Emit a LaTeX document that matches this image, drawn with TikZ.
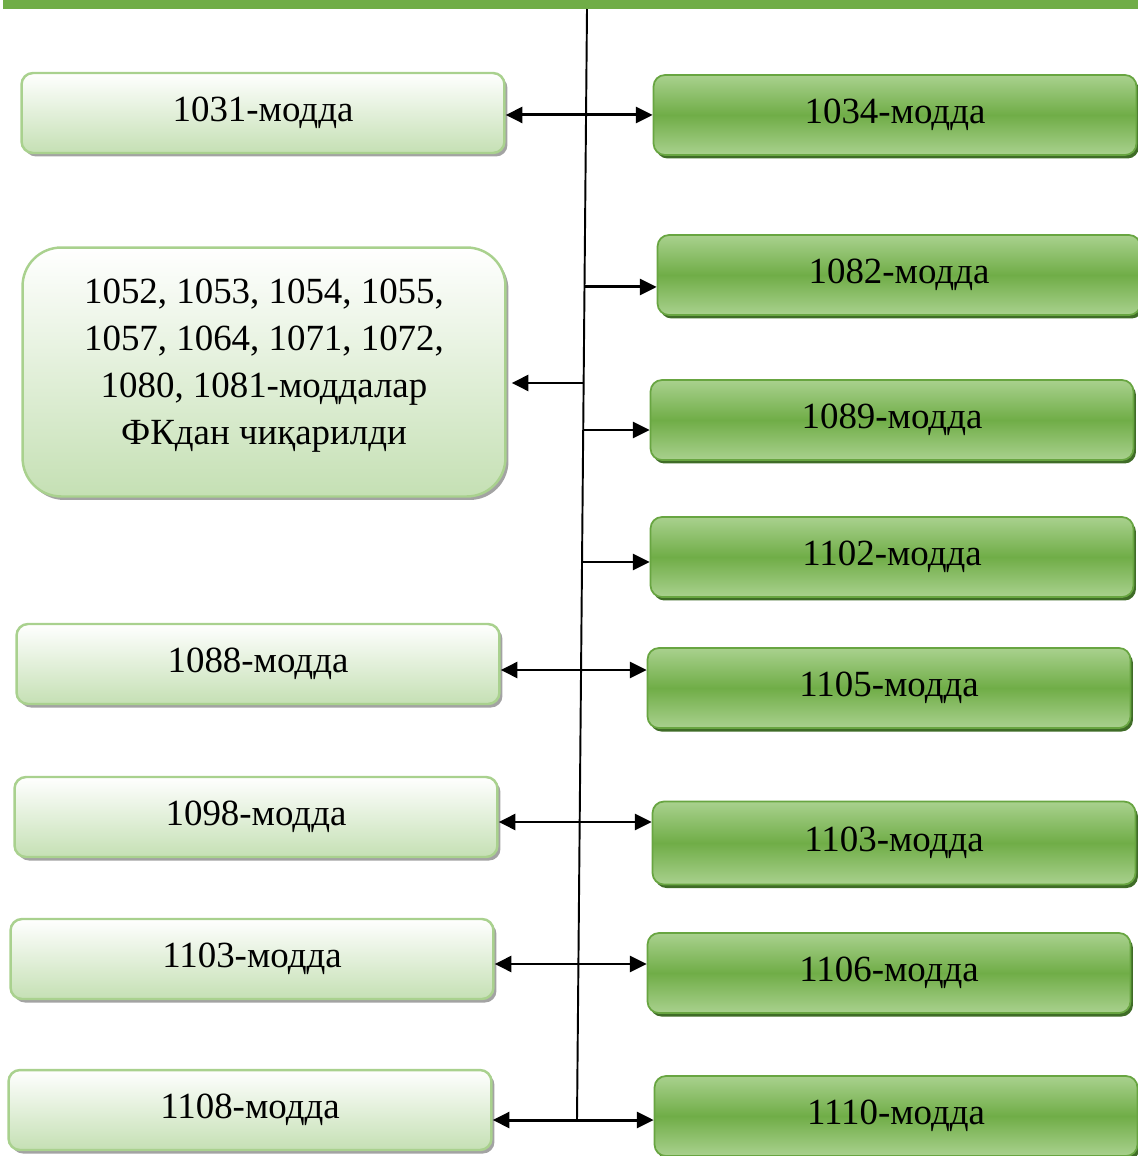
\documentclass[tikz,border=0pt]{standalone}
\usepackage{fontspec}
\setmainfont{Liberation Serif}
\usetikzlibrary{positioning, arrows.meta, calc, shadows}
\definecolor{bargreen}{HTML}{70AD47}
\definecolor{lightfill}{HTML}{C5E0B4}
\definecolor{lightedge}{HTML}{A9D18E}
\definecolor{darkfill}{HTML}{70AD47}
\definecolor{darkedge}{HTML}{68A541}
\definecolor{midfill}{HTML}{A9D18E}
\definecolor{greyshadow}{HTML}{A3A3A3}
\definecolor{greenshadow}{HTML}{3F6C27}

\begin{document}
\begin{tikzpicture}[
    x=0.02cm, y=-0.02cm,
    lbox/.style={draw=lightedge, line width=1.4pt, rounded corners=6.5pt,
        top color=white, bottom color=lightfill,
        minimum width=9.66cm, minimum height=1.6cm, inner sep=0pt,
        font=\fontsize{21}{26.7}\selectfont, align=center,
        drop shadow={fill=greyshadow, opacity=1, shadow xshift=0.06cm, shadow yshift=-0.07cm}},
    rbox/.style={draw=darkedge, line width=1pt, rounded corners=6.5pt,
        top color=midfill, bottom color=midfill, middle color=darkfill,
        minimum width=9.66cm, minimum height=1.6cm, inner sep=0pt,
        font=\fontsize{21}{26.7}\selectfont, align=center,
        drop shadow={fill=greenshadow, opacity=1, shadow xshift=0.05cm, shadow yshift=-0.07cm}},
    arrw/.style={-{Triangle[length=9.5pt, width=9pt]}, line width=1.7pt}
]
\useasboundingbox (0,0) rectangle (1138,1156);

% Title bar (cut off at the top)
\node[fill=bargreen, minimum width=22.7cm, minimum height=0.18cm, inner sep=0pt,
    anchor=north west] (bar) at (3,0) {};

% Spine
\coordinate (top) at (587,9);
\coordinate (bot) at (577,1120);
\draw[line width=1.1pt] (top) -- (bot);

% Left column
\node[lbox] (a1031) at (263,113) {1031-модда};
\node[lbox, minimum height=4.98cm, rounded corners=22pt] (abig) at (264,372)
    {1052, 1053, 1054, 1055,\\ 1057, 1064, 1071, 1072,\\ 1080, 1081-моддалар\\ ФКдан чиқарилди\\[-0.52cm]};
\node[lbox] (a1088) at (258,664) {1088-модда};
\node[lbox] (a1098) at (256,817) {1098-модда};
\node[lbox] (a1103) at (252,959) {1103-модда};
\node[lbox] (a1108) at (250,1110) {1108-модда};

% Right column
\node[rbox] (b1034) at (895,115) {1034-модда};
\node[rbox] (b1082) at (899,275) {1082-модда};
\node[rbox] (b1089) at (892,420) {1089-модда};
\node[rbox] (b1102) at (892,557) {1102-модда};
\node[rbox] (b1105) at (889,688) {1105-модда};
\node[rbox, minimum height=1.66cm] (b1103) at (894,843) {1103-модда};
\node[rbox] (b1106) at (889,973) {1106-модда};
\node[rbox] (b1110) at (896,1116) {1110-модда};

% Branch points on the spine
\foreach \n/\y in {1/115, 2/287, 3/383, 4/430, 5/562, 6/670, 7/822, 8/964, 9/1120}
    \coordinate (j\n) at ($(top)!{(\y-9)/1111}!(bot)$);

% Branches
\draw[arrw] (j1) -- (j1 -| a1031.east);
\draw[arrw] (j1) -- (j1 -| b1034.west);
\draw[arrw] (j2) -- (j2 -| b1082.west);
\draw[arrw, shorten >=0.1cm] (j3) -- (j3 -| abig.east);
\draw[arrw] (j4) -- (j4 -| b1089.west);
\draw[arrw] (j5) -- (j5 -| b1102.west);
\draw[arrw] (j6) -- (j6 -| a1088.east);
\draw[arrw] (j6) -- (j6 -| b1105.west);
\draw[arrw] (j7) -- (j7 -| a1098.east);
\draw[arrw] (j7) -- (j7 -| b1103.west);
\draw[arrw] (j8) -- (j8 -| a1103.east);
\draw[arrw] (j8) -- (j8 -| b1106.west);
\draw[arrw] (j9) -- (j9 -| a1108.east);
\draw[arrw] (j9) -- (j9 -| b1110.west);

\end{tikzpicture}
\end{document}
